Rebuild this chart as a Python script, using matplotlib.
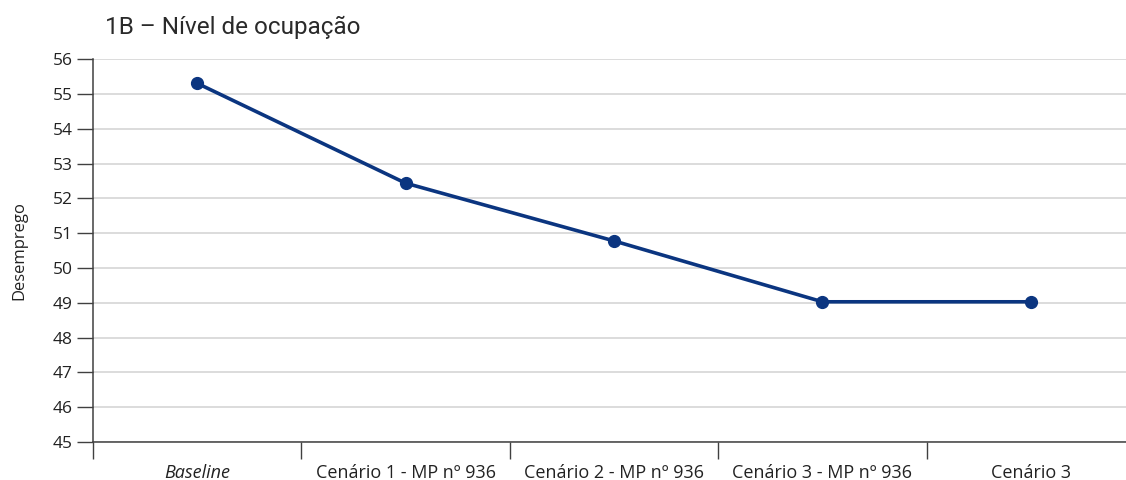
import matplotlib
matplotlib.use("Agg")
import matplotlib.pyplot as plt
from matplotlib.ticker import FixedLocator, NullFormatter

categories = ["Baseline", "Cenário 1 - MP nº 936", "Cenário 2 - MP nº 936",
              "Cenário 3 - MP nº 936", "Cenário 3"]
values = [55.31, 52.44, 50.78, 49.03, 49.03]
yticks = list(range(45, 57))

plt.rcParams['font.family'] = ['Open Sans', 'DejaVu Sans']

fig = plt.figure(figsize=(11.26, 4.8), dpi=100)
ax = fig.add_axes([93/1126, 38/480, 1042/1126, (420.7-38)/480])

x = list(range(len(categories)))
ax.plot(x, values, color='#0b3580', lw=2.6, marker='o', ms=8.5, zorder=3)

ax.set_xlim(-0.5, len(categories) - 0.5)
ax.set_ylim(45, 56)
ax.set_yticks(yticks)
ax.set_yticklabels([str(t) for t in yticks], fontsize=12.5, color='#222222')
ax.yaxis.grid(True, color='#d9d9d9', lw=1.3)
ax.set_axisbelow(True)

# Category boundaries as major ticks, labels at minor ticks
ax.xaxis.set_major_locator(FixedLocator([i - 0.5 for i in range(len(categories) + 1)]))
ax.xaxis.set_major_formatter(NullFormatter())
ax.xaxis.set_minor_locator(FixedLocator(x))
ax.set_xticks(x, minor=True)
ax.set_xticklabels(categories, minor=True, fontsize=13, color='#222222')
for lbl in ax.get_xticklabels(minor=True):
    if lbl.get_text() == "Baseline":
        lbl.set_fontstyle('italic')
ax.tick_params(axis='x', which='major', length=12, width=1, color='#404040')
ax.tick_params(axis='x', which='minor', length=0, pad=16)
ax.tick_params(axis='y', length=11.5, width=1, color='#404040', pad=3)

for s in ['top', 'right']:
    ax.spines[s].set_visible(False)
for s in ['left', 'bottom']:
    ax.spines[s].set_color('#404040')
    ax.spines[s].set_linewidth(1.1)

ax.set_ylabel("Desemprego", fontsize=12, color='#222222')
ax.yaxis.set_label_coords((27 - 93) / 1042, 0.5)

fig.text(105/1126, 1 - 27/480, "1B – Nível de ocupação", fontsize=17.5,
         family=['Liberation Sans Narrow', 'Roboto', 'DejaVu Sans'],
         color='#2a2a2a', va='center', ha='left')

fig.savefig("out.png", dpi=100)
